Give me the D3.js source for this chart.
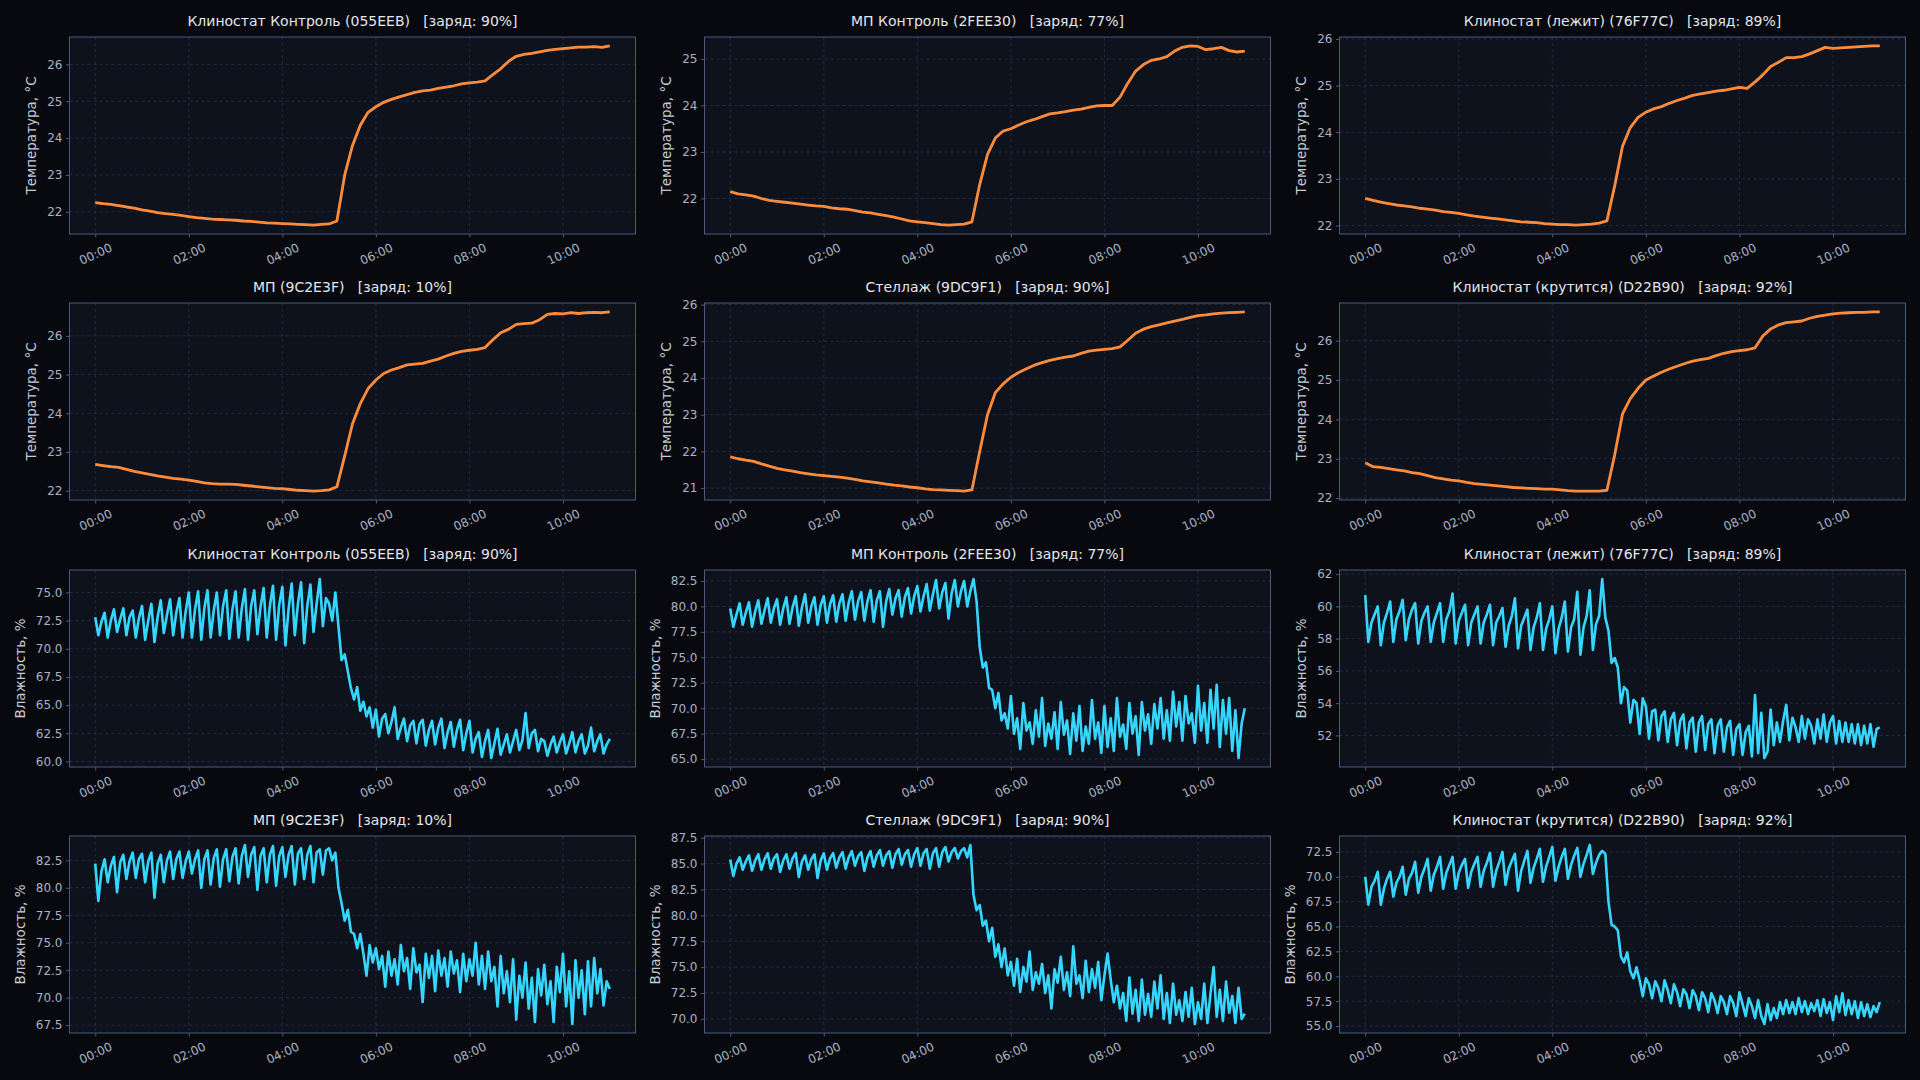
<!DOCTYPE html>
<html>
<head>
<meta charset="utf-8">
<script src="https://cdn.jsdelivr.net/npm/d3@7"></script>
<style>
  body { margin: 0; background: #07090e; }
  svg { display: block; }
</style>
</head>
<body>
<div id="chart"></div>
<script>
const width = 1920;
const height = 1080;

const sensors = [
  "Клиностат Контроль (055EEB)", "МП Контроль (2FEE30)", "Клиностат (лежит) (76F77C)",
  "МП (9C2E3F)", "Стеллаж (9DC9F1)", "Клиностат (крутится) (D22B90)"
];
const charge = [90, 77, 89, 10, 90, 92];

// minutes between samples
const tempStep = 10;
const humStep = 4;

const xTicks = [0, 2, 4, 6, 8, 10];
const xTickLabels = ["00:00", "02:00", "04:00", "06:00", "08:00", "10:00"];

// temperature, °C
const temp1 = [22.25,22.22,22.2,22.17,22.13,22.1, 22.05,22.02,21.98,21.95,21.93,21.9, 21.87,21.84,21.82,21.8,21.79,21.78,
  21.77,21.75,21.74,21.72,21.7,21.69, 21.68,21.67,21.66,21.65,21.64,21.66, 21.67,21.75,23.0,23.8,24.35,24.7,
  24.85,24.97,25.05,25.12,25.18,25.24, 25.28,25.3,25.35,25.38,25.42,25.47, 25.5,25.52,25.55,25.72,25.88,26.08,
  26.22,26.27,26.3,26.34,26.38,26.41, 26.43,26.45,26.47,26.47,26.48,26.46, 26.5];
const temp2 = [22.15,22.1,22.08,22.05,22.0,21.96, 21.94,21.92,21.9,21.88,21.86,21.84, 21.83,21.8,21.78,21.77,21.74,21.71,
  21.69,21.66,21.63,21.6,21.56,21.52, 21.5,21.48,21.46,21.44,21.43,21.44, 21.45,21.5,22.3,22.95,23.3,23.45,
  23.5,23.58,23.65,23.7,23.76,23.82, 23.84,23.87,23.9,23.92,23.96,23.99, 24.0,24.0,24.18,24.48,24.74,24.88,
  24.97,25.0,25.05,25.17,25.25,25.28, 25.27,25.2,25.22,25.25,25.18,25.15, 25.17];
const temp3 = [22.58,22.54,22.5,22.47,22.44,22.42, 22.4,22.37,22.35,22.33,22.3,22.28, 22.26,22.23,22.2,22.18,22.16,22.14,
  22.12,22.1,22.08,22.07,22.06,22.04, 22.03,22.02,22.02,22.01,22.02,22.03, 22.05,22.1,22.85,23.7,24.1,24.32,
  24.43,24.5,24.55,24.62,24.68,24.73, 24.79,24.82,24.85,24.88,24.9,24.93, 24.96,24.94,25.08,25.23,25.41,25.5,
  25.6,25.6,25.62,25.68,25.75,25.82, 25.8,25.81,25.82,25.83,25.84,25.85, 25.85];
const temp4 = [22.68,22.65,22.62,22.6,22.55,22.5, 22.46,22.42,22.38,22.35,22.32,22.3, 22.27,22.24,22.2,22.18,22.17,22.17,
  22.16,22.14,22.12,22.1,22.08,22.06, 22.05,22.03,22.01,22.0,21.99,22.0, 22.02,22.1,22.9,23.73,24.25,24.64,
  24.86,25.03,25.12,25.18,25.25,25.27, 25.29,25.35,25.4,25.48,25.55,25.6, 25.63,25.65,25.7,25.9,26.08,26.17,
  26.3,26.32,26.33,26.42,26.56,26.58, 26.57,26.6,26.58,26.6,26.61,26.6, 26.62];
const temp5 = [21.85,21.8,21.76,21.73,21.66,21.6, 21.54,21.5,21.46,21.42,21.39,21.36, 21.34,21.32,21.3,21.27,21.24,21.2,
  21.17,21.14,21.11,21.08,21.06,21.03, 21.01,20.98,20.96,20.95,20.94,20.93, 20.92,20.95,22.0,23.0,23.6,23.84,
  24.02,24.15,24.25,24.35,24.42,24.48, 24.53,24.57,24.6,24.67,24.73,24.76, 24.78,24.8,24.85,25.03,25.22,25.33,
  25.4,25.45,25.5,25.55,25.6,25.65, 25.7,25.72,25.75,25.77,25.78,25.79, 25.8];
const temp6 = [22.9,22.8,22.78,22.75,22.72,22.69, 22.65,22.62,22.57,22.52,22.49,22.46, 22.44,22.4,22.37,22.35,22.33,22.31,
  22.29,22.27,22.26,22.25,22.24,22.23, 22.23,22.21,22.19,22.18,22.18,22.18, 22.18,22.2,23.1,24.14,24.53,24.79,
  25.0,25.1,25.2,25.28,25.35,25.42, 25.48,25.52,25.55,25.62,25.68,25.72, 25.75,25.77,25.82,26.12,26.3,26.4,
  26.46,26.48,26.5,26.57,26.62,26.65, 26.68,26.7,26.71,26.72,26.72,26.73, 26.73];

// humidity, %
const hum1 = [72.8,71.2,72.4,73.2,71.0,72.5,73.5,71.5,72.6,73.6,71.2,72.8,73.4,71.0,72.7,
  73.8,70.8,72.5,74.0,70.6,72.8,74.3,71.4,73.0,74.4,71.2,73.2,74.5,71.0,73.3,
  75.0,71.0,73.5,75.1,70.8,73.6,75.2,71.0,73.4,75.0,71.2,73.8,75.2,70.9,73.5,
  75.1,71.0,73.6,75.3,70.8,73.8,75.2,71.3,73.7,75.4,71.0,73.8,75.6,70.8,73.9,
  75.5,70.3,73.5,75.8,71.2,74.0,75.9,70.5,73.8,75.7,71.5,74.0,76.2,72.0,74.5,
  74.0,72.5,75.0,72.0,69.0,69.5,68.0,66.5,65.5,66.6,64.5,65.3,64.0,64.8,63.0,
  64.6,62.2,63.8,64.2,62.5,63.5,64.8,62.0,63.0,63.8,61.8,63.2,63.6,61.6,63.3,
  63.7,61.4,62.8,63.6,61.5,63.0,63.8,61.2,62.6,63.5,61.3,62.8,63.7,61.0,62.5,
  63.6,60.8,62.0,62.6,60.4,61.8,62.8,60.3,61.6,62.9,60.6,61.5,62.4,60.8,61.8,
  62.8,61.0,61.9,64.3,61.2,62.5,62.8,60.9,62.0,61.8,60.5,61.5,62.2,60.8,61.7,
  62.4,60.7,61.6,62.6,60.8,61.8,62.4,60.7,61.4,63.0,60.9,61.8,62.4,60.7,61.5,
  62.0];
const hum2 = [79.8,78.0,79.2,80.3,78.2,79.4,80.4,78.0,79.5,80.6,78.3,79.6,80.8,78.4,79.8,
  80.7,78.2,79.8,80.9,78.3,79.9,81.0,78.1,79.9,81.2,78.4,80.0,80.9,78.2,80.1,
  81.0,78.4,80.2,81.1,78.5,80.3,81.2,78.6,80.4,81.5,78.7,80.5,81.4,78.6,80.5,
  81.6,78.5,80.6,81.5,78.0,80.5,81.7,79.2,80.8,81.6,79.0,80.9,81.8,79.3,81.0,
  82.0,79.5,81.0,82.2,79.6,81.2,82.6,79.8,81.4,82.3,78.8,81.3,82.6,80.0,81.5,
  82.5,80.0,81.5,82.7,80.5,76.0,74.0,74.5,72.0,71.8,70.0,71.5,68.8,69.5,68.0,
  71.2,67.5,69.0,66.0,70.5,67.8,68.6,66.5,69.8,67.2,71.0,66.3,68.5,67.0,69.6,
  66.0,70.6,67.4,68.8,65.5,69.5,66.8,70.2,65.8,68.2,66.5,70.8,67.0,68.6,65.6,
  70.2,66.2,69.0,65.8,71.0,67.2,68.4,66.0,70.5,67.5,69.2,65.4,70.6,67.8,69.4,
  66.5,70.4,68.0,71.0,67.0,69.8,66.8,71.6,68.2,70.6,66.8,71.2,68.5,69.5,66.6,
  72.2,67.8,70.5,66.6,71.8,68.0,72.3,66.2,70.8,67.5,71.0,65.8,69.8,65.1,68.5,
  70.0];
const hum3 = [60.7,57.8,59.0,59.5, 60.0,57.6,59.0,59.6, 60.3,57.8,59.2,59.7, 60.4,57.9,59.2,59.8,
  60.2,57.7,59.1,59.6, 60.0,57.8,59.0,59.6, 60.2,57.8,59.2,59.7, 60.8,57.7,59.1,59.6,
  60.1,57.6,59.0,59.5, 60.0,57.7,59.0,59.5, 60.1,57.6,59.0,59.4, 59.9,57.5,58.8,59.4,
  60.5,57.4,58.8,59.3, 59.8,57.3,58.7,59.3, 60.2,57.3,58.6,59.2, 60.0,57.1,58.6,59.3,
  60.3,57.2,58.7,59.2, 60.9,57.0,58.7,59.4, 61.0,57.3,58.9,59.4, 61.7,59.3,
  58.5,56.5,56.8,56.2,54.0,55.0,54.8,52.8,54.2,54.0,52.1,54.3,
  53.8,51.8,53.5,53.6,51.7,53.2,53.5,51.6,53.0,53.4,51.4,52.9,53.3,51.2,52.8,
  53.1,51.0,52.8,53.2,51.1,52.7,53.0,50.9,52.6,53.0,51.0,52.5,52.9,50.8,52.4,
  52.7,50.8,52.2,52.6,50.7,54.5,50.9,53.4,50.6,51.0,53.6,51.4,52.8,51.6,52.9,
  53.9,51.7,53.1,52.5,51.6,53.2,51.8,53.0,52.6,51.5,53.0,51.8,53.3,51.6,52.8,
  53.2,51.5,52.9,51.6,52.8,51.6,52.7,51.5,52.7,51.4,52.6,51.5,52.7,51.3,52.4,
  52.5];
const hum4 = [82.2,78.8,81.5,82.6,80.5,82.0,82.8,79.6,82.3,83.0,80.8,82.4,83.2,80.9,82.6,
  83.1,80.5,82.4,83.2,79.1,82.2,83.0,80.5,82.5,83.3,80.8,82.6,83.3,80.9,82.4,
  83.3,81.3,82.6,83.4,80.0,82.6,83.4,80.3,82.7,83.5,80.1,82.6,83.5,80.6,82.8,
  83.6,80.4,82.9,83.9,81.0,83.0,83.7,79.8,82.9,83.6,80.5,83.0,83.8,80.2,82.9,
  83.7,81.0,83.0,83.8,80.3,83.1,83.6,80.8,83.0,83.8,80.5,83.2,83.5,81.2,83.4,
  83.6,82.5,83.2,80.0,78.6,77.0,78.0,76.0,75.8,74.5,75.8,74.0,72.0,74.8,73.2,
  74.5,72.6,73.8,71.0,74.2,72.0,73.5,71.2,74.8,72.4,73.6,70.8,74.5,72.3,73.0,
  69.6,74.0,71.8,73.8,70.6,74.3,72.0,73.6,71.0,74.2,72.2,73.4,70.5,74.0,71.5,
  73.5,72.0,75.0,71.2,73.8,70.8,74.2,71.5,72.8,69.2,73.8,70.4,72.4,69.6,73.5,
  68.0,72.0,70.0,73.2,69.0,71.8,67.8,72.6,70.2,73.0,69.4,71.5,67.8,72.8,70.5,
  74.0,69.2,72.4,67.6,73.4,70.0,72.5,68.5,73.3,69.2,73.6,70.4,72.6,69.3,71.5,
  70.8];
const hum5 = [85.4,83.8,85.0,85.6,84.4,85.2,85.8,84.3,85.3,85.9,84.4,85.4,86.0,84.5,85.5,
  85.9,84.2,85.3,85.9,84.5,85.5,86.0,83.7,85.2,85.8,84.4,85.4,85.9,83.6,85.3,
  86.0,84.4,85.5,86.0,84.6,85.6,86.1,84.5,85.6,86.2,84.8,85.7,86.1,84.3,85.6,
  86.2,84.7,85.8,86.3,84.8,85.8,86.2,84.6,85.9,86.4,84.9,85.9,86.3,84.7,85.9,
  86.5,84.8,86.0,86.4,84.5,86.0,86.5,84.7,86.1,86.6,85.2,86.1,86.5,85.5,86.2,
  86.5,85.6,86.8,82.0,80.5,81.0,79.0,79.5,77.5,78.8,76.0,77.2,75.0,76.8,74.2,
  75.5,73.2,75.8,72.6,75.0,73.6,76.5,72.8,74.5,73.4,75.3,72.5,74.2,71.0,74.8,
  73.5,76.0,72.8,74.5,72.2,77.0,73.4,74.2,72.0,75.6,72.6,74.8,73.0,75.5,71.8,
  74.2,76.3,73.8,71.6,73.2,71.0,72.5,69.8,74.0,70.5,72.8,69.8,73.8,70.4,72.4,
  70.2,73.6,71.0,74.2,70.0,72.5,69.6,73.4,70.4,71.8,69.8,72.6,70.2,73.0,69.5,
  71.6,70.0,73.4,69.6,72.4,75.0,70.2,72.8,69.8,73.6,70.6,72.2,69.6,73.0,70.0,
  70.5];
const hum6 = [70.0,67.2,69.0,69.6, 70.5,67.2,68.8,69.8, 70.5,68.0,69.4,70.0, 71.0,68.2,69.8,70.4,
  71.5,68.4,70.0,70.8, 71.8,68.6,70.2,71.0, 72.0,68.8,70.4,71.2, 72.0,68.8,70.4,71.2,
  71.8,68.9,70.5,71.3, 72.0,69.0,70.6,71.4, 72.4,69.0,70.6,71.5, 72.5,69.2,70.8,71.6,
  72.3,68.6,70.6,71.6, 72.6,69.4,70.9,71.8, 72.8,69.5,71.0,72.0, 73.0,69.6,71.0,72.0,
  72.8,69.8,71.2,72.1, 72.9,70.0,71.3,72.2, 73.2,70.3,71.4,72.2, 72.6,72.3,
  67.5,65.2,65.0,64.6,62.0,61.4,62.4,60.5,59.8,60.9,59.6,58.0,
  59.8,59.2,57.8,59.5,58.8,57.5,59.6,58.6,57.3,59.2,58.4,57.0,58.7,58.2,56.8,
  58.6,58.0,56.6,58.4,57.8,56.4,58.3,57.6,56.3,58.0,57.4,56.2,58.0,57.3,56.0,
  58.4,57.2,56.0,57.8,57.0,55.8,57.6,56.0,55.2,57.2,55.6,56.8,55.8,57.4,56.2,
  57.6,56.3,57.4,56.2,57.8,56.4,57.5,56.2,57.3,56.5,57.6,56.0,57.7,56.3,57.4,
  55.6,58.0,56.4,58.3,56.1,57.6,56.2,57.5,55.8,57.4,56.0,57.2,55.9,57.0,56.4,
  57.4];

const tempTicks = [[22,23,24,25,26], [22,23,24,25], [22,23,24,25,26], [22,23,24,25,26], [21,22,23,24,25,26], [22,23,24,25,26]];
const humTicks = [
  [60,62.5,65,67.5,70,72.5,75],
  [65,67.5,70,72.5,75,77.5,80,82.5],
  [52,54,56,58,60,62],
  [67.5,70,72.5,75,77.5,80,82.5],
  [70,72.5,75,77.5,80,82.5,85,87.5],
  [55,57.5,60,62.5,65,67.5,70,72.5]
];

const temps = [temp1, temp2, temp3, temp4, temp5, temp6];
const hums = [hum1, hum2, hum3, hum4, hum5, hum6];

const font = "DejaVu Sans, sans-serif";
const colLeft = [69.5, 704.5, 1339.5];
const rowTop = [37, 303, 570, 836];
const plotW = 566;
const plotH = 197;

let svg = d3.select("#chart")
  .append("svg")
  .attr("width", width)
  .attr("height", height)
  .attr("viewBox", [0, 0, width, height])
  .attr("font-family", font);

svg.append("rect")
  .attr("width", width)
  .attr("height", height)
  .attr("fill", "#07090e");

function drawPanel(left, top, title, values, step, ticks, color, label, lw) {
  const g = svg.append("g").attr("transform", `translate(${left},${top})`);

  const x = d3.scaleLinear().domain([-0.55, 11.55]).range([0, plotW]);
  const [lo, hi] = d3.extent(values);
  const m = (hi - lo) * 0.05;
  const y = d3.scaleLinear().domain([lo - m, hi + m]).range([plotH, 0]);

  g.append("rect")
    .attr("width", plotW)
    .attr("height", plotH)
    .attr("fill", "#0d121d");

  // grid
  g.append("g")
    .selectAll("line")
    .data(xTicks)
    .join("line")
      .attr("x1", d => x(d)).attr("x2", d => x(d))
      .attr("y1", 0).attr("y2", plotH)
      .attr("stroke", "#283149")
      .attr("stroke-width", 0.8)
      .attr("stroke-dasharray", "3,3");
  g.append("g")
    .selectAll("line")
    .data(ticks)
    .join("line")
      .attr("x1", 0).attr("x2", plotW)
      .attr("y1", d => y(d)).attr("y2", d => y(d))
      .attr("stroke", "#283149")
      .attr("stroke-width", 0.8)
      .attr("stroke-dasharray", "3,3");

  const fmt = ticks.every(Number.isInteger) ? d3.format("d") : d3.format(".1f");
  const yAxis = g.append("g")
    .call(d3.axisLeft(y).tickValues(ticks).tickFormat(fmt).tickSize(3.5).tickPadding(3.5));
  const xAxis = g.append("g")
    .attr("transform", `translate(0,${plotH})`)
    .call(d3.axisBottom(x).tickValues(xTicks).tickFormat((d, i) => xTickLabels[i]).tickSize(3.5).tickPadding(3.5));

  [yAxis, xAxis].forEach(a => {
    a.attr("font-family", font).attr("font-size", 12);
    a.select(".domain").remove();
    a.selectAll(".tick line").attr("stroke", "#4b5878");
    a.selectAll(".tick text").attr("fill", "#a9b2c4");
  });
  xAxis.selectAll(".tick text")
    .attr("y", 0)
    .attr("dy", "0.35em")
    .attr("text-anchor", "middle")
    .attr("transform", "translate(0,20) rotate(-25)");

  const line = d3.line()
    .x(d => x(d[0]))
    .y(d => y(d[1]));

  g.append("path")
    .datum(values.map((v, i) => [i * step / 60, v]))
    .attr("fill", "none")
    .attr("stroke", color)
    .attr("stroke-width", lw)
    .attr("stroke-linejoin", "round")
    .attr("d", line);

  g.append("rect")
    .attr("width", plotW)
    .attr("height", plotH)
    .attr("fill", "none")
    .attr("stroke", "#4b5a7c")
    .attr("stroke-width", 1);

  g.append("text")
    .attr("x", plotW / 2)
    .attr("y", -11)
    .attr("text-anchor", "middle")
    .attr("fill", "#e2e7ef")
    .attr("font-size", 14)
    .style("white-space", "pre")
    .text(title);

  const bb = yAxis.node().getBBox();
  g.append("text")
    .attr("transform", `translate(${bb.x - 16},${plotH / 2}) rotate(-90)`)
    .attr("text-anchor", "middle")
    .attr("dy", "0.35em")
    .attr("fill", "#c5ccd8")
    .attr("font-size", 13.5)
    .text(label);
}

sensors.forEach((name, k) => {
  const col = k % 3;
  const row = Math.floor(k / 3);
  const title = `${name}   [заряд: ${charge[k]}%]`;
  drawPanel(colLeft[col], rowTop[row], title, temps[k], tempStep, tempTicks[k], "#ff8c3a", "Температура, °C", 2.8);
  drawPanel(colLeft[col], rowTop[row + 2], title, hums[k], humStep, humTicks[k], "#36d7ff", "Влажность, %", 2.6);
});
</script>
</body>
</html>
